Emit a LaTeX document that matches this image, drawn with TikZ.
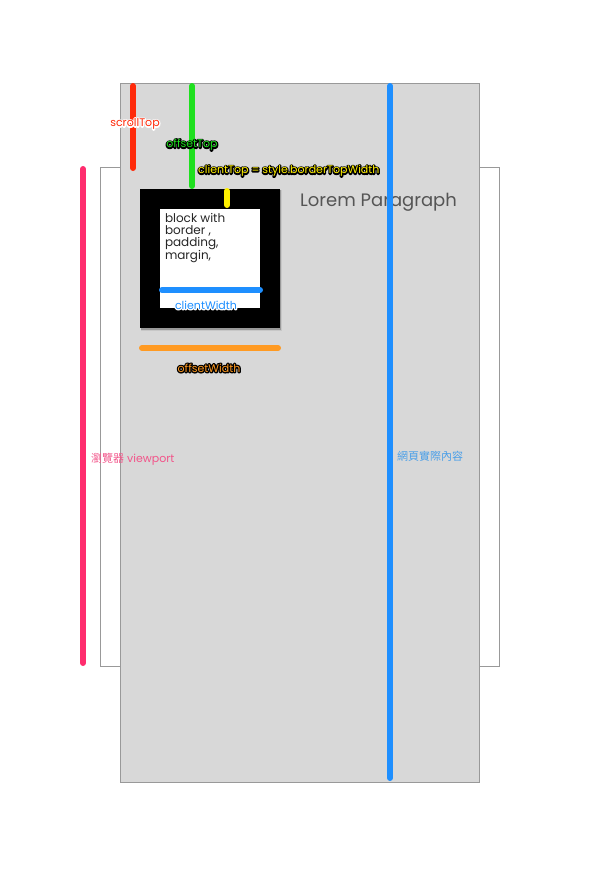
\documentclass[tikz,border=0pt]{standalone}
\usepackage{fontspec}
\setmainfont{Poppins}
\newfontfamily\cjkfont{Noto Sans CJK TC}
\usepackage{xcolor}
\usetikzlibrary{positioning}

\definecolor{pagegray}{HTML}{D8D8D8}
\definecolor{framegray}{HTML}{999999}
\definecolor{scrollred}{HTML}{FF2A0A}
\definecolor{offgreen}{HTML}{1EE01E}
\definecolor{contentblue}{HTML}{1E8FFF}
\definecolor{labelblue}{HTML}{4A9FE8}
\definecolor{viewpink}{HTML}{FF2D6E}
\definecolor{viewtext}{HTML}{F2558A}
\definecolor{widthorange}{HTML}{FF9A22}
\definecolor{topyellow}{HTML}{FFF000}
\definecolor{loremgray}{HTML}{555555}

% text with a stroked halo under it: #1 text colour, #2 halo colour
\newcommand{\halo}[3]{%
\rlap{\special{pdf:literal direct 1 Tr 2.6 w 1 j}{\color{#2}#3}\special{pdf:literal direct 0 Tr}}%
{\color{#1}#3}}

\begin{document}
\begin{tikzpicture}[
    x=1pt,
    y=-1pt,
    line cap=round
]

\tikzstyle{box}=[
    rectangle,
    anchor=north west,
    inner sep=0pt,
    outer sep=0pt
]
\tikzstyle{bar}=[
    line width=6pt
]
\tikzstyle{tag}=[
    inner sep=0pt,
    font=\fontsize{11}{11}\selectfont
]

\useasboundingbox (0,0) rectangle (600,889);

% viewport and page
\node[box, draw=framegray, fill=white, line width=1pt,
      minimum width=399pt, minimum height=499pt] (viewport) at (100,167) {};
\node[box, draw=framegray, fill=pagegray, line width=1pt,
      minimum width=359pt, minimum height=699pt] (page) at (120,83) {};

% the block
\fill[black!22] (141,190) rectangle (282,331);
\fill[black!40] (141,190) rectangle (281,330);
\node[box, fill=black, minimum width=140pt, minimum height=139pt] (block) at (140,189) {};
\node[box, fill=white, minimum width=100pt, minimum height=99pt] (inner) at (160,209) {};
\node[box, align=left, font=\fontsize{12}{12}\selectfont, text=black!85]
    (blocktext) at (165,213) {block with\\border ,\\padding,\\margin,};

\node[anchor=west, inner sep=0pt, font=\fontsize{18}{18}\selectfont, text=loremgray]
    (lorem) at (300,202) {Lorem Paragraph};

% end points of the bars
\coordinate (scrollA) at (133,86);
\coordinate (scrollB) at (133,168);
\coordinate (offtopA) at (192,86);
\coordinate (offtopB) at (192,186);
\coordinate (contentA) at (390,86);
\coordinate (contentB) at (390,778);
\coordinate (viewA) at (83,169);
\coordinate (viewB) at (83,663);
\coordinate (bordA) at (227,191);
\coordinate (bordB) at (227,205);
\coordinate (cwidthA) at (162,290);
\coordinate (cwidthB) at (260,290);
\coordinate (owidthA) at (142,348);
\coordinate (owidthB) at (278,348);

\draw[bar, scrollred] (scrollA) -- (scrollB);
\draw[bar, offgreen] (offtopA) -- (offtopB);
\draw[bar, contentblue] (contentA) -- (contentB);
\draw[bar, viewpink] (viewA) -- (viewB);
\draw[bar, topyellow] (bordA) -- (bordB);
\draw[bar, contentblue] (cwidthA) -- (cwidthB);
\draw[bar, widthorange] (owidthA) -- (owidthB);

% labels
\node[tag] (scrolltag) at (135,124) {\halo{scrollred}{white}{scrollTop}};
\node[tag] (offtoptag) at (192,145) {\halo{offgreen}{black}{offsetTop}};
\node[tag, anchor=west] (clienttoptag) at (198,171) {\halo{topyellow}{black}{clientTop = style.borderTopWidth}};
\node[tag] (cwidthtag) at (206,305) {\halo{contentblue}{white}{clientWidth}};
\node[tag] (owidthtag) at (209,368) {\halo{widthorange}{black}{offsetWidth}};
\node[tag, anchor=west, text=viewtext] (viewtag) at (91,459) {{\cjkfont 瀏覽器} viewport};
\node[tag, anchor=west, text=labelblue] (contenttag) at (397,456) {\cjkfont 網頁實際內容};

\end{tikzpicture}
\end{document}
